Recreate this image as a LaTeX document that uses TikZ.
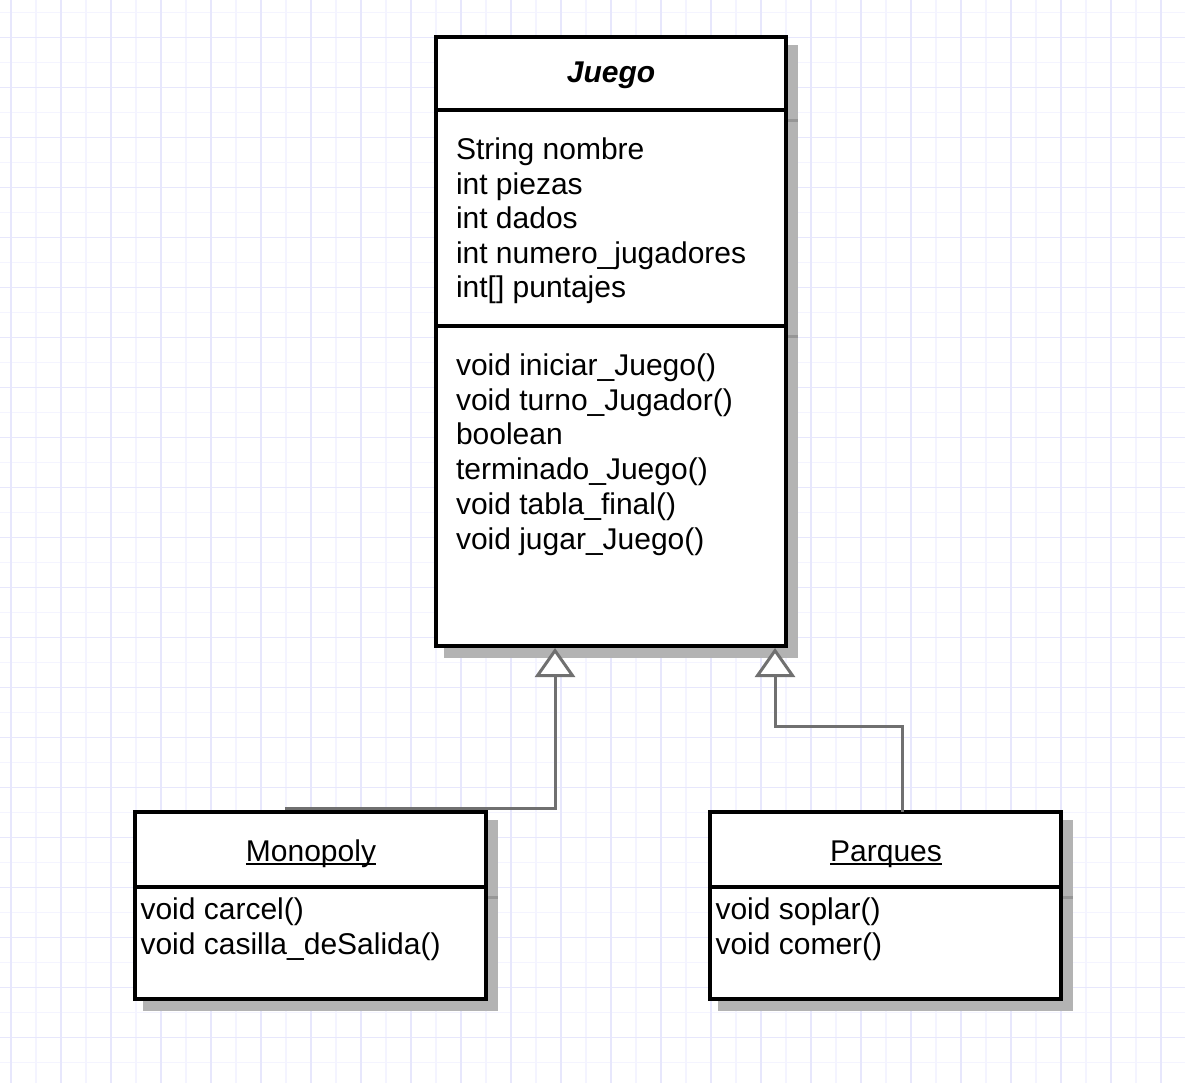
\documentclass[tikz,border=0pt]{standalone}
\usepackage{fontspec}
\setmainfont{Liberation Sans}
\usetikzlibrary{arrows.meta}
\definecolor{gmin}{RGB}{244,244,255}
\definecolor{gmaj}{RGB}{231,231,252}
\definecolor{shadowc}{RGB}{179,179,179}
\definecolor{shadowl}{RGB}{150,150,150}
\definecolor{connc}{RGB}{112,112,112}
\begin{document}
\begin{tikzpicture}[x=1pt,y=-1pt,
  umlbox/.style={draw=black, line width=4pt, fill=white, rectangle, inner sep=0pt, outer sep=0pt, anchor=north west},
  divider/.style={draw=black, line width=4pt},
  shadowline/.style={draw=shadowl, line width=3pt},
  txt/.style={inner sep=0pt, outer sep=0pt, anchor=base west, font=\fontsize{30}{35}\selectfont},
  ttl/.style={inner sep=0pt, outer sep=0pt, anchor=base, font=\fontsize{30}{35}\selectfont},
  inh/.style={draw=connc, line width=3pt, -{Triangle[fill=white, length=29pt, width=40pt]}},
  gridmin/.style={draw=gmin, line width=1.5pt},
  gridmaj/.style={draw=gmaj, line width=1.5pt}]
\useasboundingbox (0,0) rectangle (1185,1083);
\fill[white] (0,0) rectangle (1185,1083);
% grid
\foreach \x in {36,86,...,1186} \draw[gridmin] (\x,0) -- (\x,1083);
\foreach \y in {12.7,62.7,...,1083} \draw[gridmin] (0,\y) -- (1185,\y);
\foreach \x in {11,61,...,1186} \draw[gridmaj] (\x,0) -- (\x,1083);
\foreach \y in {37.7,87.7,...,1083} \draw[gridmaj] (0,\y) -- (1185,\y);
% shadows
\fill[shadowc] (444,45) rectangle (798,658);
\draw[shadowline] (786,120.5) -- (798,120.5);
\draw[shadowline] (786,336) -- (798,336);
\fill[shadowc] (143,820) rectangle (498,1011);
\draw[shadowline] (486,897) -- (498,897);
\fill[shadowc] (718,820) rectangle (1073,1011);
\draw[shadowline] (1061,897) -- (1073,897);
% boxes
\node[umlbox, minimum width=350pt, minimum height=609pt] (juego) at (436,37) {};
\node[umlbox, minimum width=351pt, minimum height=187pt] (mono) at (135,812) {};
\node[umlbox, minimum width=351pt, minimum height=187pt] (parq) at (710,812) {};
% dividers
\coordinate (jd1) at (436,110.5);
\coordinate (jd2) at (436,326);
\draw[divider] (jd1) -- (jd1 -| juego.east);
\draw[divider] (jd2) -- (jd2 -| juego.east);
\coordinate (md) at (135,887);
\draw[divider] (md) -- (md -| mono.east);
\coordinate (pd) at (710,887);
\draw[divider] (pd) -- (pd -| parq.east);
% titles
\node[ttl, font=\fontsize{30}{35}\selectfont\bfseries\itshape] (jt) at (611,83) {Juego};
\node[ttl] (mt) at (311,861) {Monopoly};
\node[ttl] (pt) at (886,861) {Parques};
\draw[black, line width=2pt] ([yshift=-2.5pt]mt.base west) -- ([yshift=-2.5pt]mt.base east);
\draw[black, line width=2pt] ([yshift=-2.5pt]pt.base west) -- ([yshift=-2.5pt]pt.base east);
% attributes
\foreach \t [count=\i] in {String nombre, int piezas, int dados, int numero\_jugadores, int[] puntajes}
  \node[txt] (ja\i) at (456,{159.5+34.6*(\i-1)}) {\t};
% methods
\foreach \t [count=\i] in {void iniciar\_Juego(), void turno\_Jugador(), boolean, terminado\_Juego(), void tabla\_final(), void jugar\_Juego()}
  \node[txt] (jm\i) at (456,{375.5+34.7*(\i-1)}) {\t};
\foreach \t [count=\i] in {void carcel(), void casilla\_deSalida()}
  \node[txt] (mm\i) at (140.5,{919.5+35*(\i-1)}) {\t};
\foreach \t [count=\i] in {void soplar(), void comer()}
  \node[txt] (pm\i) at (715.5,{919.5+35*(\i-1)}) {\t};
% connectors
\coordinate (mstart) at (285,808);
\coordinate (mtip) at ([yshift=-2pt]juego.south -| 555,0);
\draw[inh] (mstart) -- (mstart -| mtip) -- (mtip);
\coordinate (pstart) at (parq.north -| 902,0);
\coordinate (ptip) at ([yshift=-2pt]juego.south -| 775,0);
\draw[inh] (pstart) -- (902,726) -- (775,726) -- (ptip);
\end{tikzpicture}
\end{document}
